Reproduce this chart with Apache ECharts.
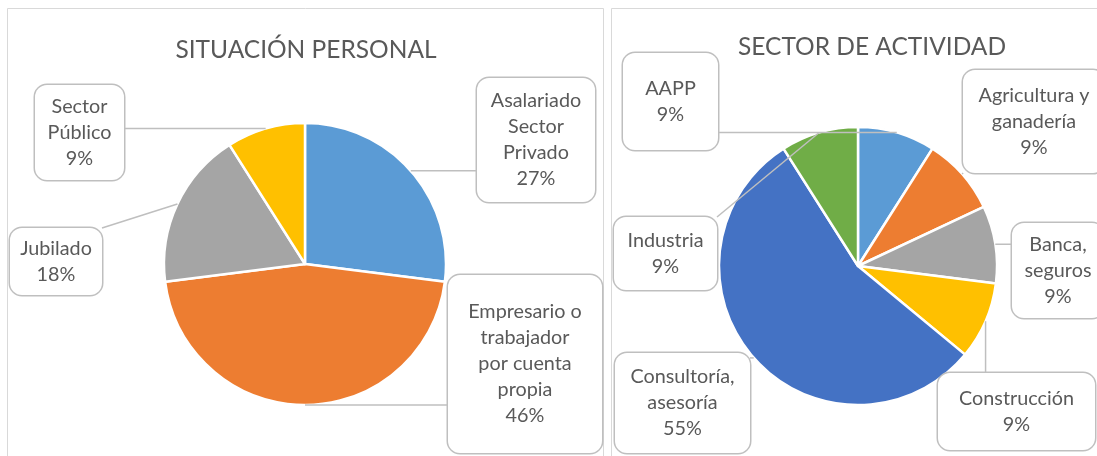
<!DOCTYPE html>
<html>
<head>
<meta charset="utf-8">
<script src="https://cdn.jsdelivr.net/npm/echarts@6/dist/echarts.min.js"></script>
<style>
  html, body { margin: 0; padding: 0; background: #fff; overflow: hidden; }
  #chart { width: 1097px; height: 456px; }
</style>
</head>
<body>
<div id="chart"></div>
<script>
// situación personal
const personalNames = ['Asalariado\nSector\nPrivado', 'Empresario o\ntrabajador\npor cuenta\npropia', 'Jubilado', 'Sector\nPúblico'];
const personalValues = [27, 46, 18, 9];
// sector de actividad
const sectorNames = ['AAPP', 'Agricultura y\nganadería', 'Banca,\nseguros', 'Construcción', 'Consultoría,\nasesoría', 'Industria'];
const sectorValues = [9, 9, 9, 9, 55, 9];

const officeColors = ['#5B9BD5', '#ED7D31', '#A5A5A5', '#FFC000', '#4472C4', '#70AD47'];

// callout boxes [left, top, width, height]
const personalBoxes = [[477, 78, 118, 124], [448, 275, 154, 178], [10, 228, 92, 67], [35, 85, 89, 95]];
const sectorBoxes = [[623, 53, 95, 97], [963, 70, 142, 103], [1012, 223, 92, 95], [938, 373, 157, 77], [615, 353, 135, 100], [614, 217, 103, 73]];

const LH = 26;
const textColor = '#595959';
const lineGray = '#bfbfbf';

function sliceData(names, values) {
  return names.map((n, i) => ({
    name: n,
    value: values[i],
    itemStyle: { color: officeColors[i] }
  }));
}

function labelData(names, values, boxes) {
  return names.map((n, i) => {
    const b = boxes[i];
    const lines = n.split('\n').length + 1;
    const pv = Math.max(2, (b[3] - lines * LH) / 2);
    return {
      name: n,
      value: values[i],
      label: { width: b[2] - 10, padding: [pv, 5, pv, 5] }
    };
  });
}

function layoutFor(boxes) {
  return (params) => {
    const b = boxes[params.dataIndex];
    const res = {
      x: b[0] + b[2] / 2,
      y: b[1] + b[3] / 2,
      align: 'center',
      verticalAlign: 'middle'
    };
    const pts = params.labelLinePoints;
    if (pts && pts.length) {
      const p = pts[0];
      const ax = Math.min(Math.max(p[0], b[0]), b[0] + b[2]);
      const ay = Math.min(Math.max(p[1], b[1]), b[1] + b[3]);
      res.labelLinePoints = [p, [ax, ay]];
    }
    return res;
  };
}

// filled slices
function pieSlices(names, values, center, radius) {
  return {
    type: 'pie',
    z: 2,
    center: center,
    radius: radius,
    startAngle: 90,
    clockwise: true,
    itemStyle: { borderColor: '#fff', borderWidth: 2.5 },
    label: { show: false },
    labelLine: { show: false },
    emphasis: { disabled: true },
    data: sliceData(names, values)
  };
}

// callouts, drawn above the slices
function pieCallouts(names, values, boxes, center, radius) {
  return {
    type: 'pie',
    z: 3,
    center: center,
    radius: radius,
    startAngle: 90,
    clockwise: true,
    percentPrecision: 0,
    avoidLabelOverlap: false,
    silent: true,
    itemStyle: { color: 'rgba(0,0,0,0)', borderWidth: 0 },
    label: {
      show: true,
      position: 'outside',
      formatter: '{b}\n{d}%',
      fontFamily: 'Lato',
      fontSize: 19.8,
      lineHeight: LH,
      color: textColor,
      align: 'center',
      backgroundColor: '#fff',
      borderColor: lineGray,
      borderWidth: 1.5,
      borderRadius: 12
    },
    labelLine: { show: true, length: 10, length2: 10, lineStyle: { color: lineGray, width: 1.5 } },
    labelLayout: layoutFor(boxes),
    emphasis: { disabled: true },
    data: labelData(names, values, boxes)
  };
}

const chart = echarts.init(document.getElementById('chart'), null, { renderer: 'canvas' });
chart.setOption({
  animation: false,
  backgroundColor: '#fff',
  graphic: [
    { type: 'rect', shape: { x: 7.5, y: 8.5, width: 596, height: 470 }, style: { fill: 'none', stroke: '#d9d9d9', lineWidth: 1 }, silent: true, z: -10 },
    { type: 'rect', shape: { x: 611.5, y: 8.5, width: 500, height: 470 }, style: { fill: 'none', stroke: '#d9d9d9', lineWidth: 1 }, silent: true, z: -10 }
  ],
  title: [
    { text: 'SITUACIÓN PERSONAL', left: 301, top: 45, textAlign: 'center', textVerticalAlign: 'middle',
      textStyle: { fontFamily: 'Lato', fontSize: 24.5, fontWeight: 'normal', color: textColor } },
    { text: 'SECTOR DE ACTIVIDAD', left: 867, top: 42, textAlign: 'center', textVerticalAlign: 'middle',
      textStyle: { fontFamily: 'Lato', fontSize: 24.5, fontWeight: 'normal', color: textColor } }
  ],
  series: [
    pieSlices(personalNames, personalValues, [305, 264], 141),
    pieCallouts(personalNames, personalValues, personalBoxes, [305, 264], 141),
    pieSlices(sectorNames, sectorValues, [858, 266], 139),
    pieCallouts(sectorNames, sectorValues, sectorBoxes, [858, 266], 139)
  ]
});
</script>
</body>
</html>
